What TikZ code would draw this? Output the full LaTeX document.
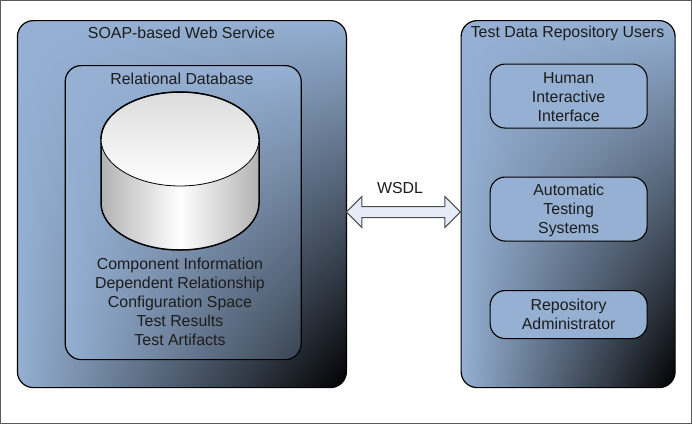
\documentclass[tikz,border=0pt]{standalone}
\usepackage{fontspec}
\setmainfont{Liberation Sans}
\usetikzlibrary{shapes.arrows,shapes.geometric}
\definecolor{panelblue}{HTML}{95B0D3}
\definecolor{arrowfill}{HTML}{E6ECF7}
\definecolor{inktext}{HTML}{1C1C1C}
\pgfdeclarefunctionalshading{panelshade}{\pgfpointorigin}{\pgfpoint{100bp}{100bp}}{}{
  75 exch sub 50 div
  exch 25 sub 50 div
  mul
  1 exch sub
  dup 0.584 mul exch
  dup 0.69 mul exch
  0.827 mul
}
\pgfdeclarefunctionalshading{innershade}{\pgfpointorigin}{\pgfpoint{100bp}{100bp}}{}{
  75 exch sub 50 div
  exch 25 sub 50 div
  mul
  0.62 mul
  1 exch sub
  dup 0.584 mul exch
  dup 0.69 mul exch
  0.827 mul
}
\tikzset{
  x=1pt,y=-1pt,
  panel/.style={draw=black,line width=1.2pt,shading=panelshade,rectangle,anchor=north west,inner sep=0pt},
  subbox/.style={draw=black,line width=1.1pt,fill=panelblue,rectangle,rounded corners=15pt,anchor=north west,inner sep=0pt,minimum width=157pt},
  lbl/.style={font=\fontsize{15.9}{19}\selectfont,text=inktext,align=center,inner sep=0pt},
}
\begin{document}
\begin{tikzpicture}
\useasboundingbox (0,0) rectangle (692,424);
\draw[draw=black!65,line width=1.2pt] (0.5,0.5) rectangle (691.5,423.5);
\node[panel,rounded corners=16pt,minimum width=329pt,minimum height=367pt] (soap) at (16.8,20) {};
\node[panel,shading=innershade,rounded corners=16pt,minimum width=236pt,minimum height=294pt] (rdb) at (64.6,65) {};
\node[panel,rounded corners=16pt,minimum width=214pt,minimum height=367pt] (users) at (460.5,20) {};
% cylinder
\coordinate (cylc) at (180,139);
\shade[left color=black!30,right color=black!30,middle color=white,draw=black,line width=1.5pt]
  (101,139) -- (101,203) arc[start angle=180,end angle=0,x radius=79,y radius=47] -- (259,139) -- cycle;
\shade[top color=black!14,bottom color=white,draw=black,line width=0.8pt]
  (cylc) ellipse[x radius=79,y radius=47];
\draw[black,line width=1.5pt] (101,139) arc[start angle=180,end angle=360,x radius=79,y radius=47];
\node[lbl] (t1) at (181.5,33) {SOAP-based Web Service};
\node[lbl] (t2) at (182,78.5) {Relational Database};
\node[lbl] (t3) at (180,302) {Component Information\\Dependent Relationship\\Configuration Space\\Test Results\\Test Artifacts};
\node[lbl] (t4) at (567.5,33) {Test Data Repository Users};
\node[subbox,minimum height=64pt] (b1) at (489.6,63.5) {};
\node[subbox,minimum height=64pt] (b2) at (489.6,176.5) {};
\node[subbox,minimum height=48pt] (b3) at (489.6,290) {};
\node[lbl] (l1) at ([yshift=-0.8pt]b1) {Human\\Interactive\\Interface};
\node[lbl] (l2) at ([yshift=-1.6pt]b2) {Automatic\\Testing\\Systems};
\node[lbl] (l3) at (b3) {Repository\\Administrator};
\node[double arrow,draw=black!70,fill=arrowfill,line width=1pt,minimum height=114pt,inner sep=5pt,double arrow head extend=10pt] (wsdl) at (403.4,212) {};
\node[lbl] (t5) at (400,188) {WSDL};
\end{tikzpicture}
\end{document}
